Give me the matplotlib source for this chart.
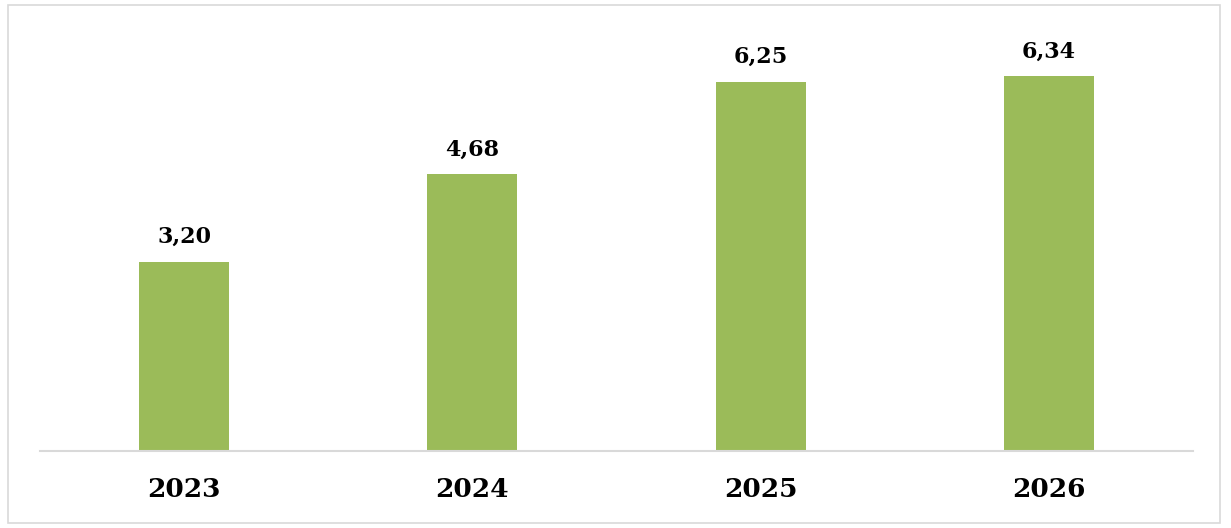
import matplotlib.pyplot as plt
from matplotlib.patches import Rectangle

years = ["2023", "2024", "2025", "2026"]
values = [3.20, 4.68, 6.25, 6.34]
value_labels = ["3,20", "4,68", "6,25", "6,34"]

W, H = 1231, 528
fig = plt.figure(figsize=(W / 100, H / 100), dpi=100)

# outer frame of the chart area
fig.patches.append(Rectangle((8 / W, 5 / H), 1212 / W, 518 / H, transform=fig.transFigure,
                             fill=False, edgecolor="#d9d9d9", linewidth=1.2))

ax = fig.add_axes([40 / W, (H - 451) / H, 1153 / W, 413.6 / H])
x = range(len(years))
ax.bar(x, values, width=0.312, color="#9bbb59")
ax.set_xlim(-0.5, 3.5)
ax.set_ylim(0, 7.0)

for xi, v, lab in zip(x, values, value_labels):
    ax.annotate(lab, (xi, v), xytext=(0, 10), textcoords="offset points", ha="center", va="bottom",
                fontsize=16, fontweight="bold", family="DejaVu Serif")

for side in ["top", "left", "right"]:
    ax.spines[side].set_visible(False)
ax.spines["bottom"].set_color("#d9d9d9")
ax.spines["bottom"].set_linewidth(1.5)
ax.set_yticks([])
ax.set_xticks(list(x))
ax.set_xticklabels(years, fontsize=19, fontweight="bold", family="DejaVu Serif")
ax.tick_params(axis="x", length=0, pad=19)

fig.savefig("out.png", dpi=100)
